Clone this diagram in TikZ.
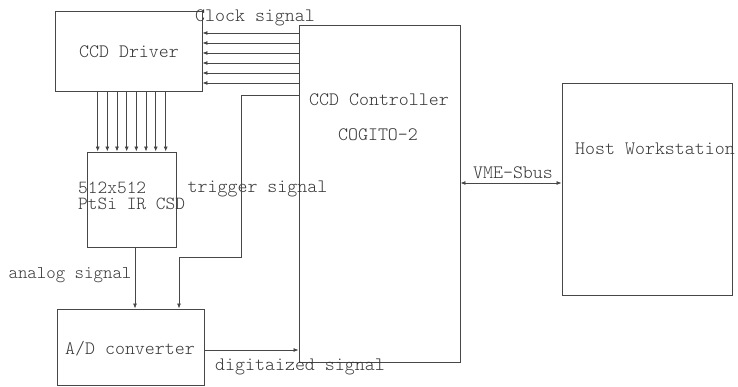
\documentclass[tikz,border=0pt]{standalone}
\usepackage{fontspec}
\setmainfont{Latin Modern Mono Light}
\usetikzlibrary{arrows.meta}
\begin{document}
\begin{tikzpicture}[x=1pt,y=-1pt,
  box/.style={draw=black!72,line width=0.9pt,rectangle,inner sep=0pt},
  lbl/.style={text=black!78,inner sep=0pt,font=\fontsize{19}{15}\selectfont},
  arr/.style={draw=black!72,line width=0.8pt,-{Latex[length=5pt,width=4pt]}},
  dbl/.style={draw=black!72,line width=0.8pt,{Latex[length=5pt,width=4pt]}-{Latex[length=5pt,width=4pt]}}]
\useasboundingbox (0,0) rectangle (738,387);
\fill[white] (0,0) rectangle (738,387);
% boxes
\node[box,minimum width=147pt,minimum height=80pt] (drv) at (128.5,51) {};
\node[box,minimum width=161pt,minimum height=337pt] (ctrl) at (379.5,193.5) {};
\node[box,minimum width=89pt,minimum height=95pt] (ccd) at (131.5,199.5) {};
\node[box,minimum width=147pt,minimum height=76pt] (ad) at (130.5,347) {};
\node[box,minimum width=170pt,minimum height=212pt] (host) at (647,189) {};
% box texts
\node[lbl] (tdrv) at (129,52) {CCD Driver};
\node[lbl] (tctrl) at (379,100) {CCD Controller};
\node[lbl] (tcog) at (378,135) {COGITO-2};
\node[lbl,anchor=west,align=left,font=\fontsize{18.5}{16.5}\selectfont] (tccd) at (78,196) {512x512\\PtSi IR CSD};
\node[lbl] (tad) at (130,349) {A/D converter};
\node[lbl] (thost) at (655,149) {Host Workstation};
% signal labels
\node[lbl] (lclk) at (255,18) {Clock signal};
\node[lbl] (ltrig) at (257.5,189) {trigger signal};
\node[lbl,font=\fontsize{18}{15}\selectfont] (lana) at (70,275) {analog signal};
\node[lbl] (ldig) at (300,367) {digitaized signal};
\node[lbl] (lvme) at (513,173) {VME-Sbus};
% clock lines
\foreach \y in {33,43,53,63,73,83}
  \draw[arr] (ctrl.west |- 0,\y) -- (drv.east |- 0,\y);
% driver to CCD
\foreach \x in {97.7,107.3,117,126.7,136.3,146,155.7,165.7}
  \draw[arr] (drv.south -| \x,0) -- (ccd.north -| \x,0);
% trigger
\coordinate (t1) at (241,95);
\coordinate (t2) at (241,257);
\coordinate (t3) at (179,257);
\draw[arr] (ctrl.west |- t1) -- (t1) -- (t2) -- (t3) -- (ad.north -| t3);
% analog
\draw[arr] (ccd.south -| 135,0) -- (ad.north -| 135,0);
% digitized
\draw[arr] (ad.east |- 0,350) -- (ctrl.west |- 0,350);
% VME
\draw[dbl] (ctrl.east |- 0,183) -- (host.west |- 0,183);
\end{tikzpicture}
\end{document}
